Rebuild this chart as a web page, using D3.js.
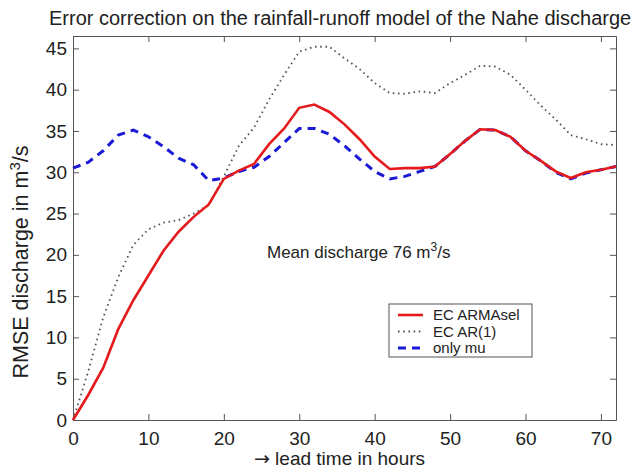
<!DOCTYPE html>
<html>
<head>
<meta charset="utf-8">
<script src="https://cdn.jsdelivr.net/npm/d3@7"></script>
<style>
  body { margin: 0; background: #fff; }
  svg { display: block; font-family: "Liberation Sans", Arial, sans-serif; }
  .axis path, .axis line { stroke: #555; }
  .axis text { fill: #222; font-size: 19px; font-family: "Liberation Sans", Arial, sans-serif; }
</style>
</head>
<body>
<script>
// lead time in hours, every 2 hours
let hours = d3.range(0, 73, 2);

// RMSE discharge in m3/s
let armasel = [0, 3.0, 6.3, 11.0, 14.5, 17.5, 20.5, 22.8, 24.6, 26.1, 29.2, 30.2, 31.0,
    33.4, 35.3, 37.8, 38.2, 37.3, 35.8, 34.0, 31.9, 30.4, 30.5, 30.5, 30.7, 32.2, 33.8,
    35.2, 35.1, 34.3, 32.6, 31.4, 30.1, 29.3, 30.0, 30.3, 30.7];
let ar1 = [0, 5.8, 12.4, 17.3, 21.2, 23.1, 23.9, 24.2, 25.0, 26.0, 29.5, 33.2, 35.4,
    38.8, 41.8, 44.6, 45.2, 45.2, 43.8, 42.5, 40.8, 39.6, 39.5, 39.8, 39.6, 40.8, 41.8,
    42.9, 42.8, 41.8, 40.0, 38.1, 36.4, 34.5, 34.0, 33.4, 33.3];
let onlyMu = [30.5, 31.2, 32.6, 34.5, 35.1, 34.3, 33.1, 31.7, 30.9, 29.0, 29.3, 30.1, 30.6,
    31.9, 33.6, 35.3, 35.3, 34.6, 33.2, 31.6, 30.1, 29.2, 29.5, 30.1, 30.7, 32.2, 33.8,
    35.2, 35.1, 34.3, 32.6, 31.4, 30.0, 29.2, 29.9, 30.3, 30.7];

let xTicks = [0, 10, 20, 30, 40, 50, 60, 70];
let yTicks = [0, 5, 10, 15, 20, 25, 30, 35, 40, 45];
let seriesNames = ['EC ARMAsel', 'EC AR(1)', 'only mu'];

let width = 632, height = 468;
let plot = {left: 73, right: 616, top: 36, bottom: 420};

let svg = d3.select('body').append('svg')
    .attr('width', width).attr('height', height);

let xScale = d3.scaleLinear().domain([0, 72]).range([plot.left, plot.right]);
let yScale = d3.scaleLinear().domain([0, 46.5]).range([plot.bottom, plot.top]);

// axes, matlab style: ticks inside, box around
svg.append('g').attr('class', 'axis')
    .attr('transform', `translate(0,${plot.bottom})`)
    .call(d3.axisBottom(xScale).tickValues(xTicks).tickSizeInner(-6).tickSizeOuter(0).tickPadding(12));
svg.append('g').attr('class', 'axis')
    .attr('transform', `translate(0,${plot.top})`)
    .call(d3.axisTop(xScale).tickValues(xTicks).tickSizeInner(-6).tickSizeOuter(0).tickFormat(''));
svg.append('g').attr('class', 'axis')
    .attr('transform', `translate(${plot.left},0)`)
    .call(d3.axisLeft(yScale).tickValues(yTicks).tickSizeInner(-6).tickSizeOuter(0).tickPadding(6));
svg.append('g').attr('class', 'axis')
    .attr('transform', `translate(${plot.right},0)`)
    .call(d3.axisRight(yScale).tickValues(yTicks).tickSizeInner(-6).tickSizeOuter(0).tickFormat(''));

let line = d3.line()
    .x((d, i) => xScale(hours[i]))
    .y(d => yScale(d));

let styles = [
    {data: armasel, color: '#e41a1c', width: 2.6, dash: null},
    {data: ar1, color: '#555', width: 1.8, dash: '1.6,3.6'},
    {data: onlyMu, color: '#1a1ad6', width: 3, dash: '8,6'}
];

// draw AR(1) first, then mu, then ARMAsel on top
[1, 2, 0].forEach(k => {
    let s = styles[k];
    svg.append('path')
        .datum(s.data)
        .attr('fill', 'none')
        .attr('stroke', s.color)
        .attr('stroke-width', s.width)
        .attr('stroke-dasharray', s.dash)
        .attr('d', line);
});

// title
svg.append('text')
    .attr('x', 49).attr('y', 25)
    .attr('font-size', 20).attr('fill', '#222')
    .text('Error correction on the rainfall-runoff model of the Nahe discharge');

// axis labels
let xLabel = svg.append('text')
    .attr('x', (plot.left + plot.right) / 2 - 5).attr('y', 465)
    .attr('text-anchor', 'middle')
    .attr('font-size', 19).attr('fill', '#222');
xLabel.append('tspan').attr('font-family', '"DejaVu Sans"').text('\u2192');
xLabel.append('tspan').text(' lead time in hours');

let yLabel = svg.append('text')
    .attr('transform', 'translate(28,262) rotate(-90)')
    .attr('text-anchor', 'middle')
    .attr('font-size', 21.5).attr('fill', '#222');
yLabel.append('tspan').text('RMSE discharge in m');
yLabel.append('tspan').attr('font-size', 15).attr('dy', -8).text('3');
yLabel.append('tspan').attr('dy', 8).text('/s');

// annotation
let note = svg.append('text')
    .attr('x', 267).attr('y', 258)
    .attr('font-size', 17).attr('fill', '#222');
note.append('tspan').text('Mean discharge 76 m');
note.append('tspan').attr('font-size', 12).attr('dy', -7).text('3');
note.append('tspan').attr('dy', 7).text('/s');

// legend
let legend = svg.append('g').attr('transform', 'translate(389,304)');
legend.append('rect')
    .attr('width', 143).attr('height', 53)
    .attr('fill', '#fff').attr('stroke', '#555').attr('stroke-width', 1);
seriesNames.forEach((name, i) => {
    let s = styles[i];
    let y = 11 + i * 16.5;
    legend.append('line')
        .attr('x1', 9).attr('x2', 34).attr('y1', y).attr('y2', y)
        .attr('stroke', s.color)
        .attr('stroke-width', s.width)
        .attr('stroke-dasharray', s.dash);
    legend.append('text')
        .attr('x', 44).attr('y', y + 5)
        .attr('font-size', 15).attr('fill', '#222')
        .text(name);
});
</script>
</body>
</html>
